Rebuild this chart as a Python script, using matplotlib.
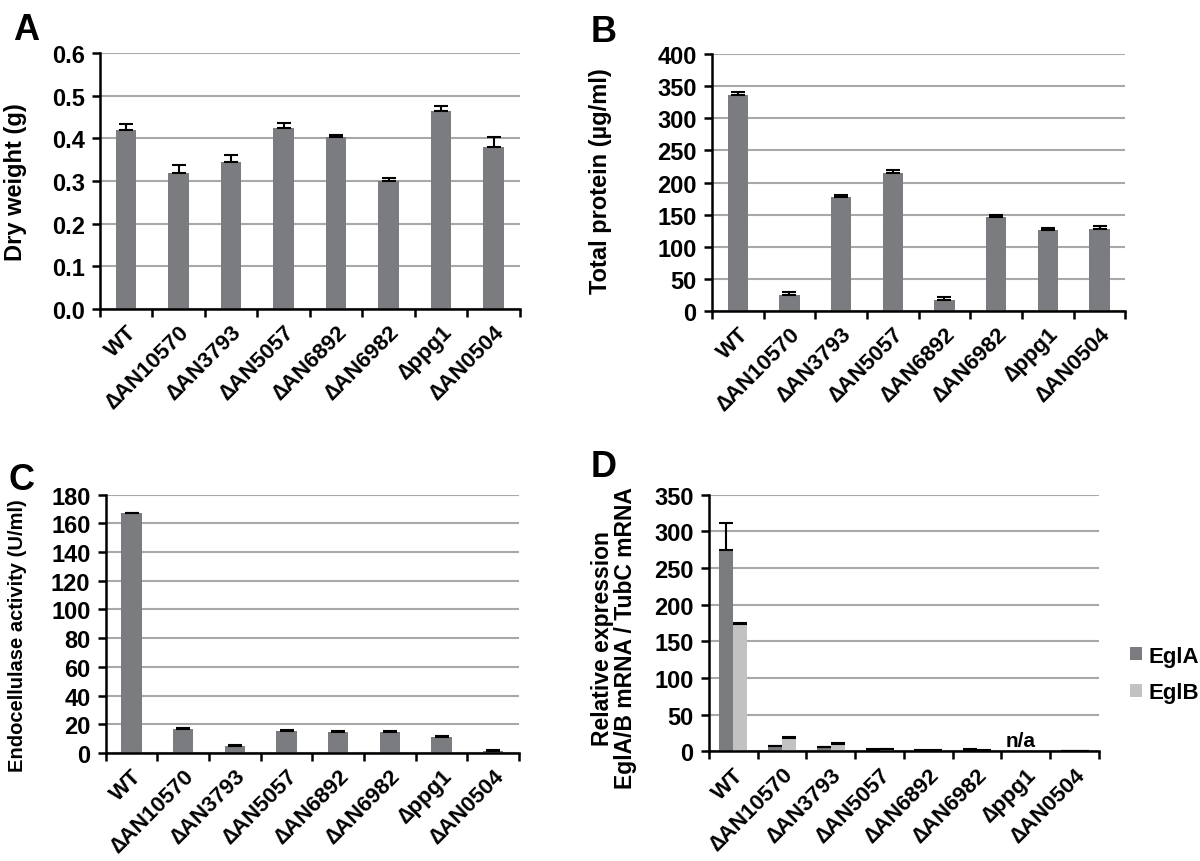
import matplotlib
matplotlib.use('Agg')
import matplotlib.pyplot as plt
import numpy as np

plt.rcParams['font.family'] = ['Liberation Sans', 'DejaVu Sans']
plt.rcParams['font.weight'] = 'bold'

strains = ['WT', '\u2206AN10570', '\u2206AN3793', '\u2206AN5057', '\u2206AN6892',
           '\u2206AN6982', '\u2206ppg1', '\u2206AN0504']

dry_weight = [0.420, 0.318, 0.345, 0.424, 0.402, 0.300, 0.463, 0.380]
dry_weight_err = [0.014, 0.019, 0.016, 0.013, 0.005, 0.008, 0.013, 0.022]

protein = [337, 25.4, 177.6, 215, 17.7, 146.4, 125.6, 128.2]
protein_err = [3.5, 3.6, 3.6, 4.0, 3.6, 3.0, 3.6, 4.0]

endo = [167, 16.5, 4.9, 15.6, 14.6, 14.6, 11.2, 1.6]
endo_err = [0.5, 0.7, 0.7, 0.5, 0.5, 0.5, 0.6, 0.5]

egla = [275, 6.8, 5.9, 2.3, 0.9, 2.3, np.nan, 0.1]
egla_err = [37, 0.5, 0.6, 0.3, 0.2, 0.4, np.nan, 0.1]
eglb = [174, 18.2, 10.0, 2.7, 0.9, 0.9, np.nan, 0.4]
eglb_err = [1.0, 0.6, 0.6, 0.3, 0.2, 0.2, np.nan, 0.1]

dark = '#7b7c80'
light = '#c2c2c2'
grid = '#a8a8a8'


def style(ax, ylim, step, fmt):
    x = np.arange(len(strains))
    ax.set_xlim(-0.5, len(strains) - 0.5)
    ax.set_ylim(0, ylim)
    ticks = np.arange(0, ylim + step / 2, step)
    ax.set_yticks(ticks)
    ax.set_yticklabels([fmt.format(t) for t in ticks], fontsize=17, fontweight='bold')
    ax.set_xticks(x)
    ax.set_xticklabels(strains, rotation=45, ha='right', rotation_mode='anchor',
                       fontsize=16, fontweight='bold')
    ax.set_xticks(np.arange(-0.5, len(strains)), minor=True)
    ax.tick_params(axis='x', which='major', length=0, pad=9)
    ax.tick_params(axis='x', which='minor', length=6, width=1.8, direction='out')
    ax.tick_params(axis='y', length=6, width=1.8, direction='out', pad=5)
    for s in ['top', 'right']:
        ax.spines[s].set_visible(False)
    for s in ['left', 'bottom']:
        ax.spines[s].set_linewidth(1.8)
    ax.yaxis.grid(True, color=grid, linewidth=1.5)
    ax.set_axisbelow(True)


fig = plt.figure(figsize=(12, 8.62), dpi=100)

axA = fig.add_axes([0.0833, 0.6404, 0.35, 0.297])
axB = fig.add_axes([0.5933, 0.638, 0.3445, 0.298])
axC = fig.add_axes([0.0881, 0.1253, 0.3444, 0.2997])
axD = fig.add_axes([0.5908, 0.1273, 0.325, 0.2977])

x = np.arange(len(strains))
ekw = dict(ecolor='black', elinewidth=1.5, capsize=5, capthick=1.5)

axA.bar(x, dry_weight, width=0.39, color=dark,
        yerr=[np.zeros(8), dry_weight_err], error_kw=ekw, zorder=2)
style(axA, 0.6, 0.1, '{:.1f}')
axA.set_ylabel('Dry weight (g)', fontsize=17, fontweight='bold')
axA.yaxis.set_label_coords(-0.174, 0.5)

axB.bar(x, protein, width=0.39, color=dark,
        yerr=[np.zeros(8), protein_err], error_kw=ekw, zorder=2)
style(axB, 400, 50, '{:.0f}')
axB.set_ylabel('Total protein (\u00b5g/ml)', fontsize=17, fontweight='bold')
axB.yaxis.set_label_coords(-0.242, 0.51)

axC.bar(x, endo, width=0.39, color=dark,
        yerr=[np.zeros(8), endo_err], error_kw=ekw, zorder=2)
style(axC, 180, 20, '{:.0f}')
axC.set_ylabel('Endocellulase activity (U/ml)', fontsize=14.5, fontweight='bold')
axC.yaxis.set_label_coords(-0.19, 0.46)

w = 0.29
axD.bar(x - w / 2, egla, width=w, color=dark, label='EglA',
        yerr=[np.zeros(8), egla_err], error_kw=ekw, zorder=2)
axD.bar(x + w / 2, eglb, width=w, color=light, label='EglB',
        yerr=[np.zeros(8), eglb_err], error_kw=ekw, zorder=2)
style(axD, 350, 50, '{:.0f}')
axD.set_ylabel('Relative expression\nEglA/B mRNA / TubC mRNA', fontsize=16.5,
               fontweight='bold', linespacing=1.0)
axD.yaxis.set_label_coords(-0.185, 0.445)
axD.text(5.9, 15, 'n/a', ha='center', va='center', fontsize=15, fontweight='bold')
axD.legend(loc='center left', bbox_to_anchor=(1.079, 0.30), frameon=False,
           borderpad=0, borderaxespad=0,
           prop={'size': 16, 'weight': 'bold'}, handlelength=0.54, handleheight=0.54,
           handletextpad=0.3, labelspacing=0.7)

for lab, (px, py) in zip('ABCD', [(0.011, 0.965), (0.492, 0.962), (0.007, 0.442), (0.492, 0.458)]):
    fig.text(px, py, lab, fontsize=26, fontweight='bold', ha='left', va='center')

fig.savefig('out.png', dpi=100)
